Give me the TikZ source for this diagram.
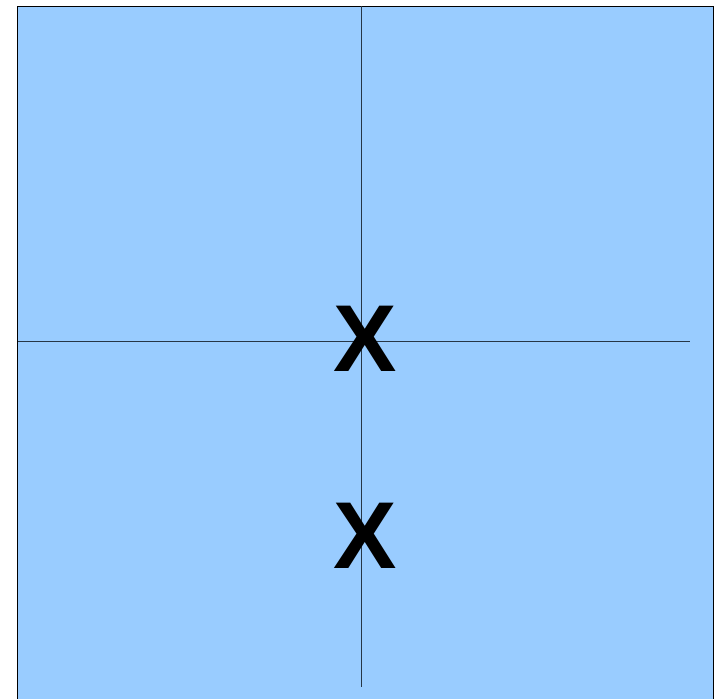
\documentclass[tikz,border=0pt]{standalone}
\usepackage{fontspec}
\setmainfont{Liberation Sans}
\definecolor{panelblue}{HTML}{99CCFF}
\definecolor{axisline}{HTML}{263646}
\begin{document}
\begin{tikzpicture}[x=1pt,y=-1pt,
  axis/.style={draw=axisline,line width=1pt},
  xlabel/.style={font=\fontsize{95}{95}\selectfont\bfseries,inner sep=0pt,text=black}]
\useasboundingbox (0,0) rectangle (716,699);
\begin{scope}
\clip (0,0) rectangle (716,699);
\draw[fill=panelblue,draw=black,line width=1pt] (17.5,6) rectangle (713.5,720);
\end{scope}
\coordinate (vtop) at (361.5,6);
\coordinate (vbot) at (361.5,687);
\coordinate (hleft) at (17.5,341);
\coordinate (hright) at (690,341);
\draw[axis] (vtop) -- (vbot);
\draw[axis] (hleft) -- (hright);
\node[xlabel] (x1) at (365,339) {X};
\node[xlabel] (x2) at (365,536) {X};
\end{tikzpicture}
\end{document}
